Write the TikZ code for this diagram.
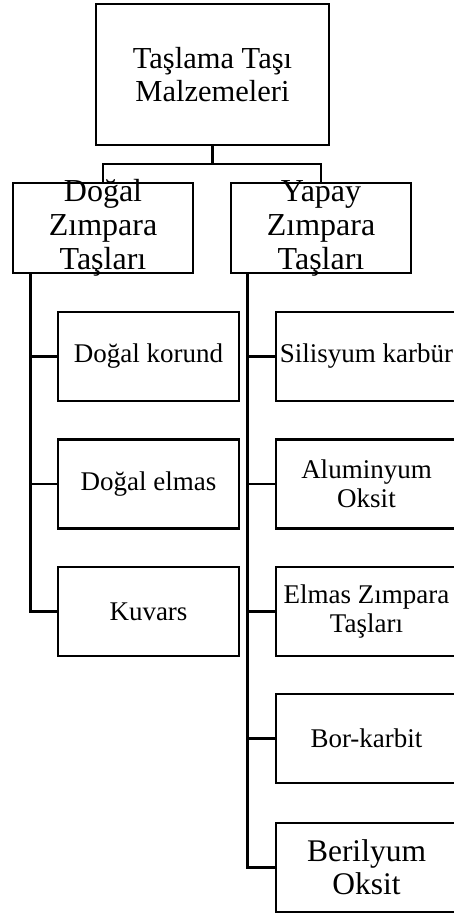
\documentclass[tikz,border=0pt]{standalone}
\usepackage{fontspec}
\setmainfont{Liberation Serif}
\begin{document}
\begin{tikzpicture}[x=1pt,y=-1pt,
  box/.style={draw, line width=2.6pt, inner sep=0pt},
  small/.style={minimum width=181pt, minimum height=89pt},
  txt/.style={inner sep=0pt, align=center},
  fsmall/.style={font=\fontsize{27}{28.5}\selectfont},
  conn/.style={line width=2.7pt}]
\useasboundingbox (0,0) rectangle (454,915);
% boxes
\node[box, minimum width=233pt, minimum height=141pt] (top) at (212.5,74.5) {};
\node[box, minimum width=180pt, minimum height=90pt] (dogal) at (103,228) {};
\node[box, minimum width=180pt, minimum height=90pt] (yapay) at (321,228) {};
\node[box, small] (korund) at (148.5,356.5) {};
\node[box, small] (delmas) at (148.5,484) {};
\node[box, small] (kuvars) at (148.5,611.5) {};
\node[box, small] (silisyum) at (366.5,356.5) {};
\node[box, small] (alum) at (366.5,484) {};
\node[box, small] (elmas) at (366.5,611.5) {};
\node[box, small] (bor) at (366.5,738.5) {};
\node[box, small] (beril) at (366.5,867.5) {};
% texts
\node[txt, font=\fontsize{30.5}{33}\selectfont] (ttop) at (top.center) {Taşlama Taşı\\Malzemeleri};
\node[txt, font=\fontsize{32}{34}\selectfont] (tdogal) at (dogal.center) {Doğal\\Zımpara\\Taşları};
\node[txt, font=\fontsize{32}{34}\selectfont] (tyapay) at (yapay.center) {Yapay\\Zımpara\\Taşları};
\node[txt, fsmall] (tkorund) at (korund.center) {Doğal korund};
\node[txt, fsmall] (tdelmas) at (delmas.center) {Doğal elmas};
\node[txt, fsmall] (tkuvars) at (kuvars.center) {Kuvars};
\node[txt, fsmall] (tsilisyum) at (silisyum.center) {Silisyum karbür};
\node[txt, fsmall] (talum) at (alum.center) {Aluminyum\\Oksit};
\node[txt, fsmall] (telmas) at (elmas.center) {Elmas Zımpara\\Taşları};
\node[txt, fsmall] (tbor) at (bor.center) {Bor-karbit};
\node[txt, font=\fontsize{31.5}{33}\selectfont] (tberil) at (beril.center) {Berilyum\\Oksit};
% connectors
\coordinate (j) at (212.5,164);
\draw[conn] (top.south) -- (j);
\draw[conn] (dogal.north) -- (dogal.north |- j) -- (yapay.north |- j) -- (yapay.north);
\coordinate (lt) at ([xshift=19pt]dogal.south west);
\coordinate (rt) at ([xshift=17.5pt]yapay.south west);
\draw[conn] (lt) |- (kuvars.west);
\draw[conn] (lt |- korund.west) -- (korund.west);
\draw[conn] (lt |- delmas.west) -- (delmas.west);
\draw[conn] (rt) |- (beril.west);
\draw[conn] (rt |- silisyum.west) -- (silisyum.west);
\draw[conn] (rt |- alum.west) -- (alum.west);
\draw[conn] (rt |- elmas.west) -- (elmas.west);
\draw[conn] (rt |- bor.west) -- (bor.west);
\end{tikzpicture}
\end{document}
